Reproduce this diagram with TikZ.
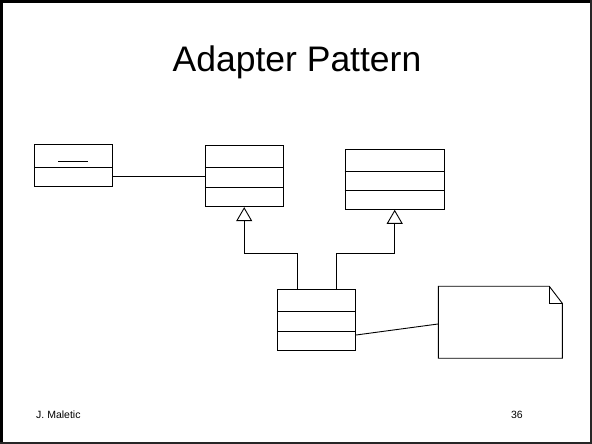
\documentclass[tikz,border=0pt]{standalone}
\usepackage{fontspec}
\setmainfont{Liberation Sans}
\usetikzlibrary{arrows.meta}
\begin{document}
\begin{tikzpicture}[x=1pt,y=1pt,
  cls/.style={draw=black,line width=0.9pt,rectangle,inner sep=0pt,anchor=center},
  ln/.style={draw=black,line width=0.9pt},
  gen/.style={ln,-{Triangle[open,length=14pt,width=16pt,line width=0.9pt]}}]
\useasboundingbox (0,0) rectangle (592,444);
% slide frame
\fill[black] (0,0) rectangle (3,444);
\fill[black] (0,441) rectangle (592,444);
\draw[line width=1.5pt,black!85] (591,0) -- (591,444);
\draw[line width=1.5pt,black!85] (0,1.2) -- (592,1.2);
% title and footer
\node[anchor=base,font=\fontsize{35.5}{40}\selectfont,inner sep=0pt] (title) at (297,372.3) {Adapter Pattern};
\node[anchor=base west,font=\fontsize{10.5}{12}\selectfont,inner sep=0pt] (author) at (36,25) {J. Maletic};
\node[anchor=base east,font=\fontsize{10.5}{12}\selectfont,inner sep=0pt] (page) at (523,25) {36};
% client object
\node[cls,minimum width=78pt,minimum height=41.7pt] (b1) at (73.3,278.2) {};
\draw[ln] (b1.west |- 0,276.7) -- (b1.east |- 0,276.7);
\draw[ln] (58.3,283) -- (88.3,283);
% target class
\node[cls,minimum width=77.7pt,minimum height=61pt] (b2) at (244.2,267.8) {};
\draw[ln] (b2.west |- 0,276.3) -- (b2.east |- 0,276.3);
\draw[ln] (b2.west |- 0,256.3) -- (b2.east |- 0,256.3);
% adaptee class
\node[cls,minimum width=99.3pt,minimum height=60.3pt] (b4) at (394.7,264.8) {};
\draw[ln] (b4.west |- 0,272.3) -- (b4.east |- 0,272.3);
\draw[ln] (b4.west |- 0,253.3) -- (b4.east |- 0,253.3);
% adapter class
\node[cls,minimum width=78.4pt,minimum height=61pt] (b3) at (316.5,124.2) {};
\draw[ln] (b3.west |- 0,132.3) -- (b3.east |- 0,132.3);
\draw[ln] (b3.west |- 0,112.7) -- (b3.east |- 0,112.7);
% note
\draw[ln] (438.3,85.7) -- (562.3,85.7) -- (562.3,140.7) -- (549.3,157.7) -- (438.3,157.7) -- cycle;
\draw[ln] (549.3,157.7) -- (549.3,140.7) -- (562.3,140.7);
\node[inner sep=0pt,minimum width=124pt,minimum height=72pt] (note) at (500.3,121.7) {};
% associations
\draw[ln] (b1.east |- 0,267.7) -- (b2.west |- 0,267.7);
\draw[ln] (b3.east |- 0,109) -- (note.west |- 0,120);
% generalizations
\draw[gen] (b3.north -| 297,0) |- (244.2,191) -- (b2.south);
\draw[gen] (b3.north -| 336,0) |- (394.7,191) -- (b4.south);
\end{tikzpicture}
\end{document}
